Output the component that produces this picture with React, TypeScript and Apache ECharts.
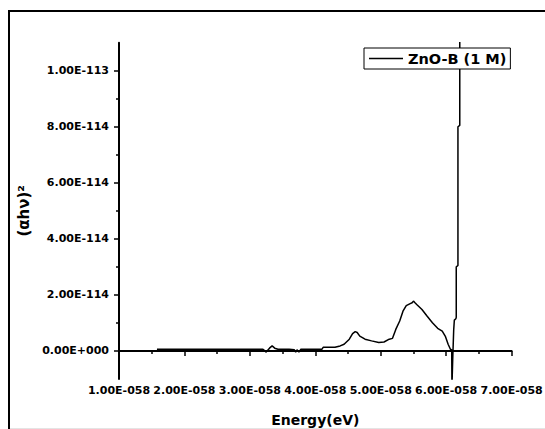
import { useEffect, useRef } from "react";
import * as echarts from "echarts";

// Photon energy, in units of 1E-058 eV
const energy = [
  1.58, 2.4, 3.2, 3.22, 3.25, 3.3, 3.34, 3.38, 3.43, 3.6, 3.68, 3.7, 3.72, 3.75, 3.78,
  4.1, 4.12, 4.3, 4.38, 4.44, 4.52, 4.57, 4.61, 4.64, 4.68, 4.76, 4.86, 4.97, 5.05,
  5.13, 5.18, 5.23, 5.29, 5.34, 5.39, 5.45, 5.48, 5.5, 5.52, 5.55, 5.63, 5.71, 5.79,
  5.87, 5.94, 5.99, 6.03, 6.065, 6.085, 6.088, 6.1, 6.115, 6.125, 6.148, 6.154, 6.154,
  6.18, 6.18, 6.208, 6.208,
];

// (αhν)², in units of 1E-114
const absorption = [
  0.06, 0.06, 0.06, 0.02, -0.04, 0.1, 0.18, 0.1, 0.06, 0.06, 0.04, -0.04, 0.04, -0.04, 0.06,
  0.06, 0.13, 0.13, 0.18, 0.24, 0.42, 0.62, 0.69, 0.66, 0.53, 0.42, 0.36, 0.3, 0.32,
  0.42, 0.45, 0.77, 1.07, 1.42, 1.62, 1.69, 1.72, 1.78, 1.73, 1.66, 1.48, 1.24, 1.01,
  0.81, 0.71, 0.51, 0.24, 0.06, 0.04, -1.3, -0.3, 0.75, 1.1, 1.15, 1.2, 3.0,
  3.05, 8.0, 8.05, 12,
];

const seriesName = "ZnO-B (1 M)";
const yMajorTicks = [0, 2, 4, 6, 8, 10];
const yMinorTicks = [1, 3, 5, 7, 9];

const FONT = "DejaVu Sans";

const formatEnergy = (v: number) => `${v.toFixed(2)}E-058`;
const formatAbs = (v: number) => {
  if (v === 0) return "0.00E+000";
  if (v >= 10) return `${(v / 10).toFixed(2)}E-113`;
  return `${v.toFixed(2)}E-114`;
};

export default function App() {
  const ref = useRef<HTMLDivElement>(null);

  useEffect(() => {
    if (!ref.current) return;
    const chart = echarts.init(ref.current, null, { renderer: "svg" });
    const labelStyle = {
      fontFamily: FONT,
      fontWeight: "bold" as const,
      fontSize: 11,
      color: "#000",
    };
    chart.setOption({
      animation: false,
      backgroundColor: "#fff",
      grid: {
        left: 119,
        right: 33.4,
        top: 42.7,
        bottom: 50,
        outerBoundsMode: "none",
      },
      legend: {
        data: [{ name: seriesName, icon: "rect" }],
        left: 364,
        top: 48,
        padding: [3, 4, 3, 5],
        itemWidth: 34,
        itemHeight: 1.6,
        itemGap: 4,
        borderColor: "#000",
        borderWidth: 1,
        backgroundColor: "#fff",
        itemStyle: { color: "#000" },
        textStyle: {
          fontFamily: FONT,
          fontWeight: "bold",
          fontSize: 14.5,
          color: "#000",
        },
      },
      xAxis: {
        type: "value",
        min: 1,
        max: 7,
        interval: 1,
        name: "Energy(eV)",
        nameLocation: "middle",
        nameGap: 34,
        nameTextStyle: {
          fontFamily: FONT,
          fontWeight: "bold",
          fontSize: 14,
          color: "#000",
        },
        axisLine: { lineStyle: { color: "#000", width: 2 } },
        axisTick: { length: 5, lineStyle: { color: "#000", width: 1.5 } },
        minorTick: {
          show: true,
          splitNumber: 2,
          length: 3,
          lineStyle: { color: "#000", width: 1.5 },
        },
        splitLine: { show: false },
        axisLabel: { ...labelStyle, margin: 6, formatter: formatEnergy },
      },
      yAxis: [
        {
          type: "value",
          min: -1,
          max: 11,
          name: "(αhν)²",
          nameLocation: "middle",
          nameRotate: 90,
          nameGap: 82,
          nameTextStyle: {
            fontFamily: FONT,
            fontWeight: "bold",
            fontSize: 15,
            color: "#000",
          },
          axisLine: { lineStyle: { color: "#000", width: 2 } },
          axisTick: {
            customValues: yMajorTicks,
            length: 5,
            lineStyle: { color: "#000", width: 1.5 },
          },
          splitLine: { show: false },
          axisLabel: {
            ...labelStyle,
            margin: 10,
            customValues: yMajorTicks,
            formatter: formatAbs,
          },
        },
        {
          type: "value",
          min: -1,
          max: 11,
          position: "left",
          axisLine: { show: false },
          axisLabel: { show: false },
          splitLine: { show: false },
          axisTick: {
            customValues: yMinorTicks,
            length: 3,
            lineStyle: { color: "#000", width: 1.5 },
          },
        },
      ],
      series: [
        {
          name: seriesName,
          type: "line",
          yAxisIndex: 0,
          data: energy.map((x, i) => [x, absorption[i]]),
          symbol: "none",
          clip: true,
          lineStyle: { color: "#000", width: 1.5 },
          itemStyle: { color: "#000" },
        },
      ],
      graphic: [
        {
          type: "rect",
          silent: true,
          shape: { x: 9, y: 11, width: 700, height: 600 },
          style: { fill: "none", stroke: "#000", lineWidth: 2 },
        },
        {
          type: "line",
          silent: true,
          shape: { x1: 10, y1: 428.5, x2: 545, y2: 428.5 },
          style: { stroke: "#e4e4e4", lineWidth: 1 },
        },
      ],
    });
    return () => chart.dispose();
  }, []);

  return (
    <div
      ref={ref}
      style={{ position: "fixed", left: 0, top: 0, width: 545, height: 429 }}
    />
  );
}
